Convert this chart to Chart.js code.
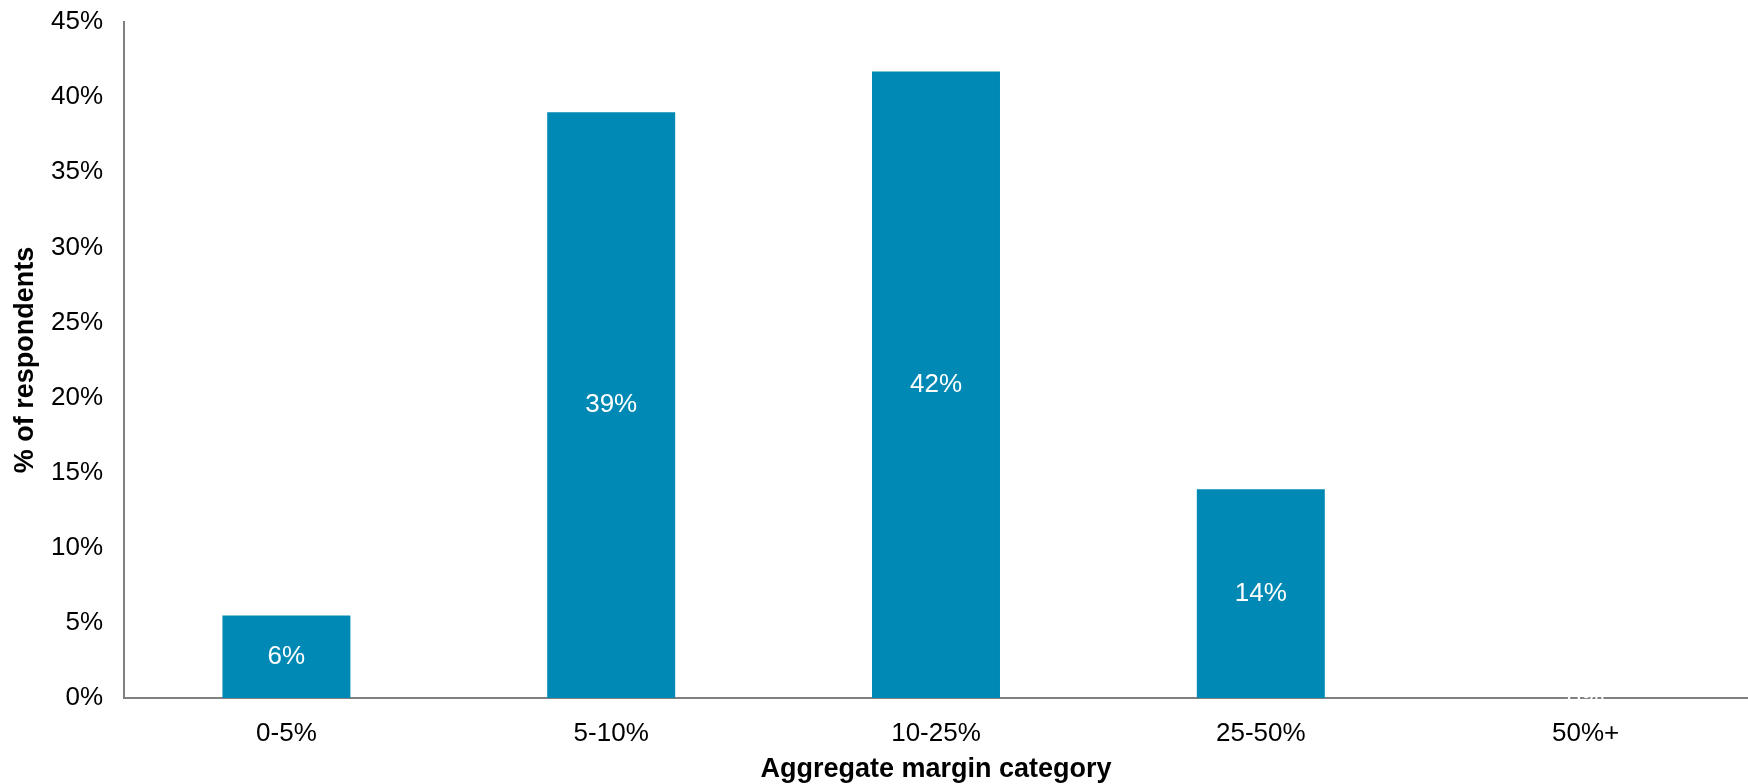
<!DOCTYPE html>
<html lang="en">
<head>
<meta charset="utf-8">
<title>Aggregate margin category</title>
<script src="https://cdn.jsdelivr.net/npm/chart.js@4"></script>
<style>
  html, body {
    margin: 0;
    padding: 0;
    background: #ffffff;
  }
  #chart-wrap {
    width: 1748px;
    height: 784px;
  }
</style>
</head>
<body>
<div id="chart-wrap">
  <canvas id="marginChart" width="1748" height="784"></canvas>
</div>
<script>
const categories = ["0-5%", "5-10%", "10-25%", "25-50%", "50%+"];
const respondentShare = [5.5, 39, 41.7, 13.9, 0];
const yTicks = [0, 5, 10, 15, 20, 25, 30, 35, 40, 45];

const palette = {
  bar: "#0089b4",
  axis: "#808080",
  ink: "#000000",
  label: "#ffffff",
};

const fontFamily = "'Liberation Sans', Arial, sans-serif";

// white value labels in the middle of each bar
const barValueLabels = {
  id: "barValueLabels",
  afterDatasetsDraw(chart) {
    const { ctx } = chart;
    const meta = chart.getDatasetMeta(0);
    ctx.save();
    ctx.font = `26px ${fontFamily}`;
    ctx.fillStyle = palette.label;
    ctx.textAlign = "center";
    ctx.textBaseline = "middle";
    meta.data.forEach((bar, index) => {
      const value = respondentShare[index];
      const y = (bar.y + bar.base) / 2;
      ctx.fillText(`${Math.round(value)}%`, bar.x, y);
    });
    ctx.restore();
  },
};

document.addEventListener("DOMContentLoaded", () => {
  const context = document.getElementById("marginChart").getContext("2d");

  new Chart(context, {
    type: "bar",
    data: {
      labels: categories,
      datasets: [
        {
          label: "% of respondents",
          data: respondentShare,
          backgroundColor: palette.bar,
          borderWidth: 0,
          categoryPercentage: 1,
          barPercentage: 0.394,
        },
      ],
    },
    options: {
      responsive: false,
      animation: false,
      devicePixelRatio: 1,
      layout: {
        padding: 0,
      },
      plugins: {
        legend: { display: false },
        tooltip: { enabled: false },
      },
      scales: {
        x: {
          grid: { display: false, drawTicks: false },
          border: { display: true, color: palette.axis, width: 2 },
          ticks: {
            color: palette.ink,
            padding: 20,
            font: { family: fontFamily, size: 26 },
          },
          title: {
            display: true,
            text: "Aggregate margin category",
            color: palette.ink,
            padding: { top: 0, bottom: 0 },
            font: { family: fontFamily, size: 27, weight: "bold", lineHeight: 1.1 },
          },
          afterFit(scale) {
            scale.height = 86;
          },
        },
        y: {
          min: 0,
          max: 45,
          grid: { display: false, drawTicks: false },
          border: { display: true, color: palette.axis, width: 2 },
          afterBuildTicks(scale) {
            scale.ticks = yTicks.map((value) => ({ value }));
          },
          ticks: {
            color: palette.ink,
            padding: 21,
            font: { family: fontFamily, size: 26 },
            callback(value) {
              return `${value}%`;
            },
          },
          title: {
            display: true,
            text: "% of respondents",
            color: palette.ink,
            padding: { top: 11, bottom: 0 },
            font: { family: fontFamily, size: 27, weight: "bold", lineHeight: 1.1 },
          },
          afterFit(scale) {
            scale.width = 124;
            // keep the plot top close to the canvas edge
            scale.paddingTop = 22;
          },
        },
      },
    },
    plugins: [barValueLabels],
  });
});
</script>
</body>
</html>
